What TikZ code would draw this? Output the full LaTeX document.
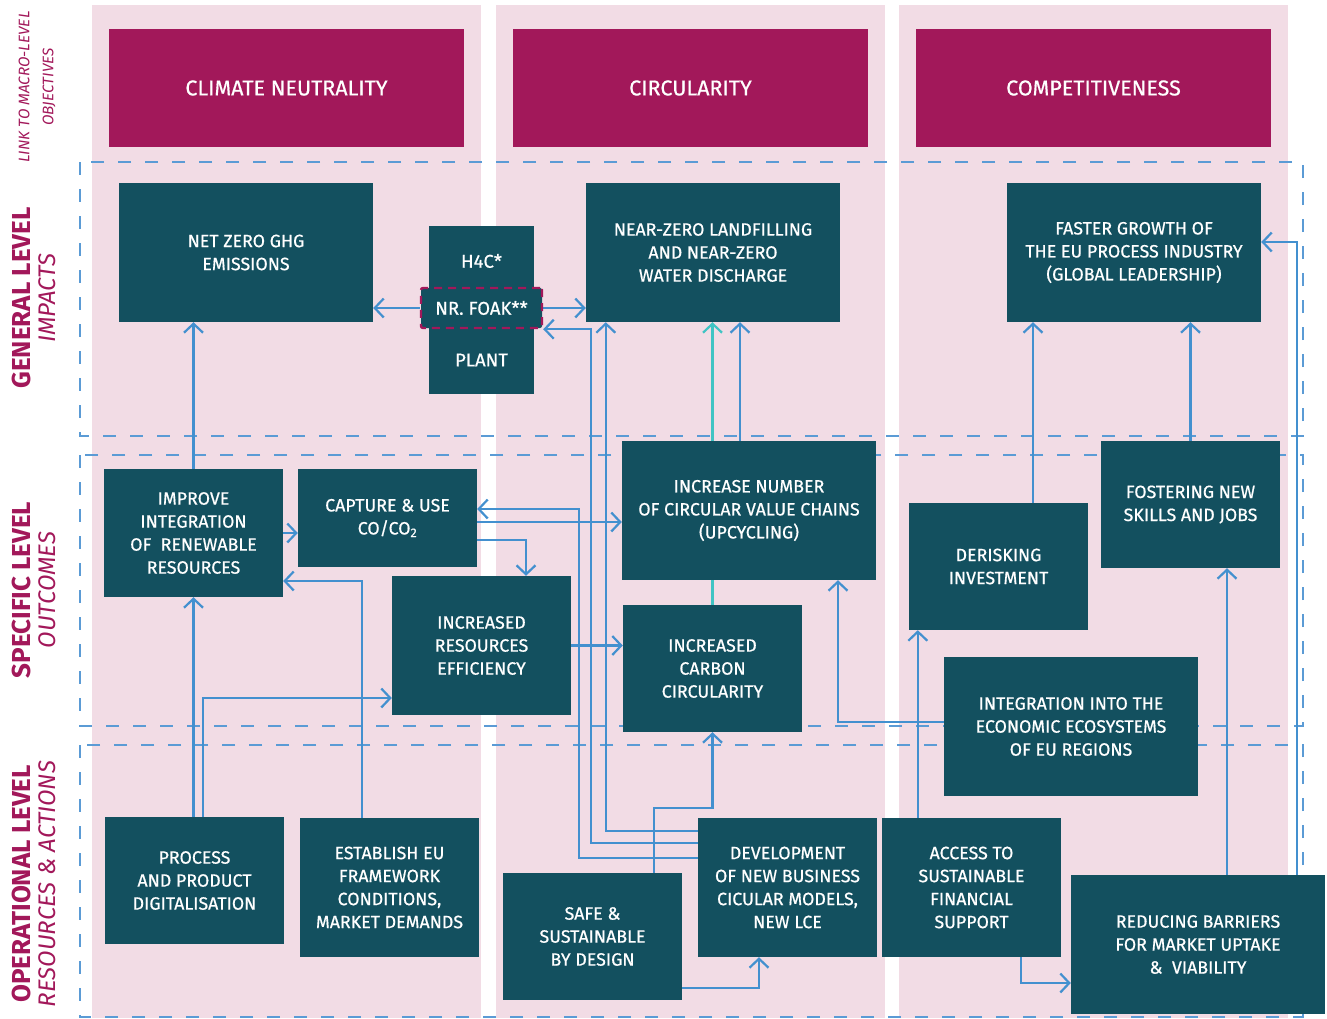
\documentclass[tikz,border=0pt]{standalone}
\usepackage{fontspec}
\setmainfont{Fira Sans}
\newfontfamily\boxfont{Fira Sans}[FakeBold=0.6]
\usetikzlibrary{positioning,calc,arrows.meta}

\definecolor{pinkbg}{HTML}{F2DCE5}
\definecolor{headmag}{HTML}{A2185A}
\definecolor{boxteal}{HTML}{13505F}
\definecolor{linkblue}{HTML}{4390CF}
\definecolor{dashblue}{HTML}{5B9BD5}
\definecolor{linkcyan}{HTML}{40C4C4}

\pgfdeclarelayer{bg}
\pgfdeclarelayer{links}
\pgfsetlayers{bg,links,main}

\begin{document}
\begin{tikzpicture}[
        x=1pt, y=-1pt,
        block/.style={fill=boxteal, text=white, align=center, inner sep=0pt, font=\boxfont\fontsize{17.8}{23}\selectfont},
        wide/.style={minimum width=254pt, minimum height=139pt},
        narrow/.style={minimum width=179pt, minimum height=127pt},
        head/.style={fill=headmag, text=white, inner sep=0pt, minimum width=355pt, minimum height=118pt, font=\boxfont\fontsize{21.5}{24}\selectfont},
        h4ctext/.style={text=white, inner sep=0pt, font=\boxfont\fontsize{18.5}{22}\selectfont},
        zone/.style={draw=dashblue, line width=1.3pt, dash pattern=on 13pt off 14pt},
        leveltag/.style={rotate=90, align=center, text=headmag, font=\fontsize{26}{25}\selectfont},
        link/.style={draw=linkblue, line width=2.2pt, -{Straight Barb[length=9pt,width=19pt]}}
      ]

      \useasboundingbox (0,0) rectangle (1327,1018);

      % columns and level zones
      \begin{pgfonlayer}{bg}
        \fill[pinkbg] (92,5) rectangle (481,1018);
        \fill[pinkbg] (496,5) rectangle (885,1018);
        \fill[pinkbg] (899,5) rectangle (1288,1018);
        \draw[zone] (80,162) rectangle (1303,436);
        \draw[zone] (80,455) rectangle (1303,726);
        \draw[zone] (80,745) rectangle (1303,1017);
      \end{pgfonlayer}

      % level tags
      \node (linktag) [leveltag, font=\fontsize{15.3}{24}\selectfont\itshape] at (37,87) {LINK TO MACRO-LEVEL\\OBJECTIVES};
      \node (general) [leveltag] at (33.5,298) {\textbf{GENERAL LEVEL}\\\fontsize{24}{25}\selectfont\textit{IMPACTS}};
      \node (specific) [leveltag] at (33.5,590) {\textbf{SPECIFIC LEVEL}\\\fontsize{24}{25}\selectfont\textit{OUTCOMES}};
      \node (operational) [leveltag] at (33.5,884) {\textbf{OPERATIONAL LEVEL}\\\fontsize{24}{25}\selectfont\textit{RESOURCES \& ACTIONS}};

      % macro-level objectives
      \node (climate) [head] at (286.5,88) {CLIMATE NEUTRALITY};
      \node (circular) [head] at (690.5,88) {CIRCULARITY};
      \node (compet) [head] at (1093.5,88) {COMPETITIVENESS};

      % impacts
      \node (netzero) [block, wide] at (246,252.5) {NET ZERO GHG\\EMISSIONS};
      \node (landfill) [block, wide] at (713,252.5) {NEAR-ZERO LANDFILLING\\AND NEAR-ZERO\\WATER DISCHARGE};
      \node (growth) [block, wide] at (1134,252.5) {FASTER GROWTH OF\\THE EU PROCESS INDUSTRY\\(GLOBAL LEADERSHIP)};
      \node (h4c) [block, minimum width=105pt, minimum height=168pt] at (481.5,310) {};
      \node (h4ctag) [h4ctext] at (481.5,261) {H4C*};
      \node (foak) [h4ctext, fill=boxteal, draw=headmag, line width=2.4pt, dash pattern=on 8pt off 6pt, rounded corners=2pt, minimum width=121pt, minimum height=40pt] at (481.5,308) {NR. FOAK**};
      \node (plant) [h4ctext] at (481.5,360) {PLANT};

      % outcomes
      \node (renew) [block, minimum width=179pt, minimum height=128pt] at (193.5,533) {IMPROVE\\INTEGRATION\\OF~ RENEWABLE\\RESOURCES};
      \node (capture) [block, minimum width=179pt, minimum height=98pt] at (387.5,518) {CAPTURE \& USE\\CO/CO\textsubscript{2}};
      \node (value) [block, wide] at (749,510.5) {INCREASE NUMBER\\OF CIRCULAR VALUE CHAINS\\(UPCYCLING)};
      \node (effic) [block, minimum width=179pt, minimum height=139pt] at (481.5,645.5) {INCREASED\\RESOURCES\\EFFICIENCY};
      \node (carbon) [block, narrow] at (712.5,668.5) {INCREASED\\CARBON\\CIRCULARITY};
      \node (derisk) [block, narrow] at (998.5,566.5) {DERISKING\\INVESTMENT};
      \node (skills) [block, narrow] at (1190.5,504.5) {FOSTERING NEW\\SKILLS AND JOBS};
      \node (ecosys) [block, wide] at (1071,726.5) {INTEGRATION INTO THE\\ECONOMIC ECOSYSTEMS\\OF EU REGIONS};

      % resources and actions
      \node (digital) [block, narrow] at (194.5,880.5) {PROCESS\\AND PRODUCT\\DIGITALISATION};
      \node (framework) [block, minimum width=179pt, minimum height=139pt] at (389.5,887.5) {ESTABLISH EU\\FRAMEWORK\\CONDITIONS,\\MARKET DEMANDS};
      \node (safe) [block, narrow] at (592.5,936.5) {SAFE \&\\SUSTAINABLE\\BY DESIGN};
      \node (business) [block, minimum width=179pt, minimum height=139pt] at (787.5,887.5) {DEVELOPMENT\\OF NEW BUSINESS\\CICULAR MODELS,\\NEW LCE};
      \node (finance) [block, minimum width=179pt, minimum height=139pt] at (971.5,887.5) {ACCESS TO\\SUSTAINABLE\\FINANCIAL\\SUPPORT};
      \node (barriers) [block, wide] at (1198,944.5) {REDUCING BARRIERS\\FOR MARKET UPTAKE\\\&~ VIABILITY};

      % helper points on box sides
      \coordinate (capR) at ([yshift=-4pt]capture.east);
      \coordinate (valT) at ([xshift=-9pt]value.north);
      \coordinate (derB) at ([xshift=9pt]derisk.south west);
      \coordinate (derT) at ([xshift=34.5pt]derisk.north);
      \coordinate (sklB) at ([xshift=36.5pt]skills.south);

      \begin{pgfonlayer}{links}
        \draw[link, draw=linkcyan] (carbon.north) -- (carbon.north |- landfill.south);
        \draw[link] (foak.west) -- (foak.west -| netzero.east);
        \draw[link] (foak.east) -- (foak.east -| landfill.west);
        \draw[link] ([yshift=44.5pt]business.west) -| ([xshift=48pt]foak.south east) -- (foak.south east);
        \draw[link] ([yshift=56.5pt]business.west) -| ([xshift=20pt]landfill.south west);
        \draw[link] ([yshift=29.5pt]business.west) -| ([xshift=102pt,yshift=9pt]capture.east) -- ([yshift=9pt]capture.east);
        \draw[link] (capR) -- (capR -| value.west);
        \draw[link] ([yshift=-22pt]capture.east) -| ([xshift=44.5pt]effic.north);
        \draw[link] (valT) -- (valT |- landfill.south);
        \draw[link] (effic.east) -- (effic.east -| carbon.west);
        \draw[link] ([xshift=61.5pt]safe.north) |- ([yshift=-76pt]carbon.south) -- (carbon.south);
        \draw[link] ([yshift=-51.5pt]safe.east) -| ([xshift=-28.5pt]business.south);
        \draw[link] (renew.north) -- (renew.north |- netzero.south);
        \draw[link] (renew.east) -- (renew.east -| capture.west);
        \draw[link] (renew.south |- digital.north) -- (renew.south);
        \draw[link] ([xshift=8.5pt]digital.north) |- ([yshift=-52.5pt]effic.west);
        \draw[link] ([xshift=-27.5pt]framework.north) |- ([yshift=-48pt]renew.east);
        \draw[link] ([yshift=4.5pt]ecosys.west) -| ([xshift=89pt]value.south);
        \draw[link] (derB |- finance.north) -- (derB);
        \draw[link] (derT) -- (derT |- growth.south);
        \draw[link] (skills.north) -- (skills.north |- growth.south);
        \draw[link] (sklB |- barriers.north) -- (sklB);
        \draw[link] ([xshift=-28pt]barriers.north east) |- ([yshift=10.5pt]growth.east);
        \draw[link] ([xshift=-40pt]finance.south east) |- ([yshift=-38.5pt]barriers.west);
      \end{pgfonlayer}

    \end{tikzpicture}
\end{document}
